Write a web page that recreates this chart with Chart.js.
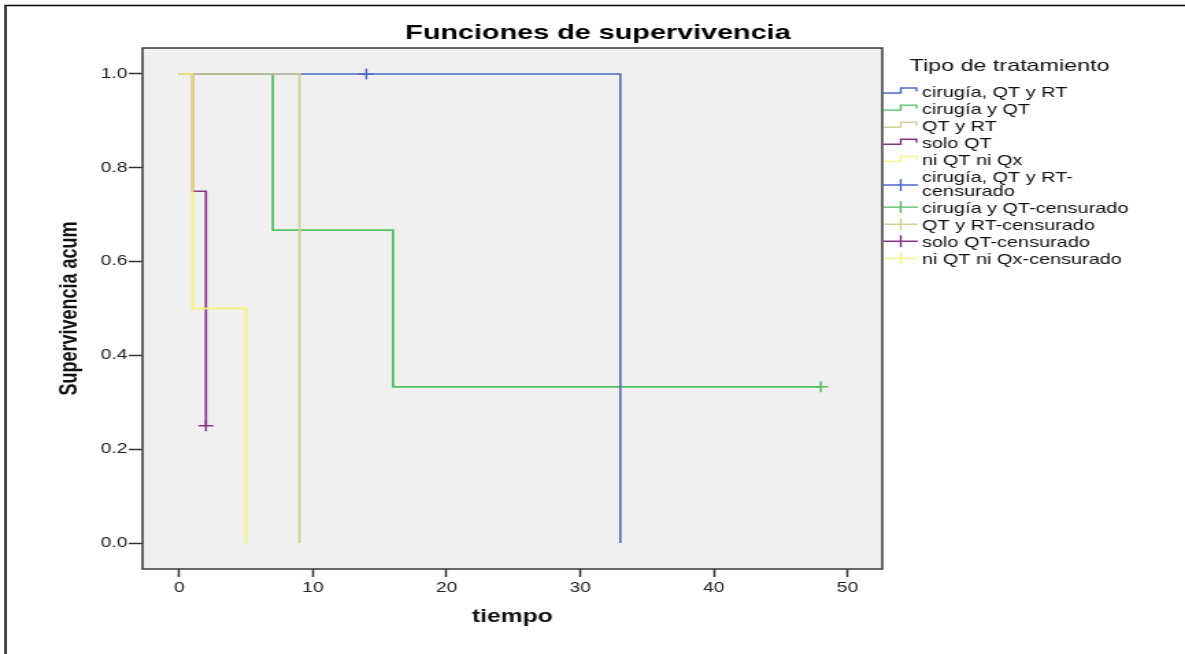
<!DOCTYPE html>
<html>
<head>
<meta charset="utf-8">
<script src="https://cdn.jsdelivr.net/npm/chart.js@4.4.1/dist/chart.umd.min.js"></script>
<style>
  html, body { margin: 0; padding: 0; background: #fff; overflow: hidden; }
  #wrap { position: relative; width: 1185px; height: 654px; }
  /* the SPSS export is stretched sideways, so draw narrow and stretch the canvas */
  #c { position: absolute; left: 0; top: 0; width: 865px; height: 654px;
       transform: scaleX(1.36994); transform-origin: 0 0; }
</style>
</head>
<body>
<div id="wrap"><canvas id="c" width="865" height="654"></canvas></div>
<script>
const titleText = 'Funciones de supervivencia';
const legendTitle = 'Tipo de tratamiento';
const groups = ['cirugía, QT y RT', 'cirugía y QT', 'QT y RT', 'solo QT', 'ni QT ni Qx'];
const colors = ['#4c68c6', '#52c063', '#d6cf96', '#83358a', 'rgba(248,243,112,0.85)'];

// Kaplan-Meier steps: time of event and survival after it
const tCirQtRt = [0, 33];        const sCirQtRt = [1, 0];
const tCirQt   = [0, 7, 16, 48]; const sCirQt   = [1, 0.667, 0.333, 0.333];
const tQtRt    = [0, 9];         const sQtRt    = [1, 0];
const tSoloQt  = [0, 1, 2];      const sSoloQt  = [1, 0.75, 0.25];
const tNiQt    = [0, 1, 5];      const sNiQt    = [1, 0.5, 0];

// censored cases
const cenT = [[14], [48], [], [2], []];
const cenS = [[1], [0.333], [], [0.25], []];

const xTicks = [0, 10, 20, 30, 40, 50];
const yTicks = [0, 0.2, 0.4, 0.6, 0.8, 1.0];

const FONT = '"Liberation Sans", Arial, sans-serif';
const curves = [[tCirQtRt, sCirQtRt], [tCirQt, sCirQt], [tQtRt, sQtRt], [tSoloQt, sSoloQt], [tNiQt, sNiQt]];
// lower order = drawn on top
const drawOrder = [4, 5, 3, 2, 1];
const widths = [1.6, 1.8, 1.7, 1.7, 2];

const pts = (t, s) => t.map((v, i) => ({ x: v, y: s[i] }));

const datasets = [];
curves.forEach(([t, s], i) => {
  datasets.push({
    label: groups[i],
    data: pts(t, s),
    showLine: true,
    stepped: 'before',
    borderColor: colors[i],
    borderWidth: widths[i],
    pointRadius: 0,
    fill: false,
    order: drawOrder[i]
  });
});
groups.forEach((g, i) => {
  datasets.push({
    label: g + '-censurado',
    data: pts(cenT[i], cenS[i]),
    showLine: false,
    pointStyle: 'cross',
    pointRadius: 5.5,
    borderColor: colors[i],
    borderWidth: 1.5,
    order: 0
  });
});

const chromePlugin = {
  id: 'chrome',
  beforeDraw(chart) {
    const { ctx, chartArea: a, width, height } = chart;
    ctx.save();
    ctx.fillStyle = '#fff';
    ctx.fillRect(0, 0, width, height);
    ctx.fillStyle = '#f0f0f0';
    ctx.fillRect(a.left, a.top, a.right - a.left, a.bottom - a.top);
    ctx.strokeStyle = '#000';
    ctx.lineWidth = 1.6;
    ctx.beginPath();
    ctx.moveTo(4, height);
    ctx.lineTo(4, 5.5);
    ctx.lineTo(width, 5.5);
    ctx.stroke();
    ctx.fillStyle = '#000';
    ctx.font = 'bold 21px ' + FONT;
    ctx.textAlign = 'center';
    ctx.textBaseline = 'alphabetic';
    ctx.fillText(titleText, 436.5, 39);
    ctx.restore();
  },
  afterDraw(chart) {
    const { ctx, chartArea: a } = chart;
    ctx.save();
    ctx.strokeStyle = '#444';
    ctx.lineWidth = 1.6;
    ctx.strokeRect(a.left, a.top, a.right - a.left, a.bottom - a.top);

    // legend
    ctx.fillStyle = '#111';
    ctx.textAlign = 'left';
    ctx.textBaseline = 'alphabetic';
    ctx.font = '17px ' + FONT;
    ctx.fillText(legendTitle, 664, 71);

    const x0 = 645, x1 = 669, xm = 657.5, tx = 673;
    ctx.font = '14.5px ' + FONT;
    const items = [];
    groups.forEach((g, i) => items.push({ text: g, color: colors[i], kind: 'step' }));
    groups.forEach((g, i) => items.push({ text: g + '-censurado', color: colors[i], kind: 'cross' }));

    let y = 96.5;
    items.forEach(it => {
      let lines = [it.text];
      if (ctx.measureText(it.text).width > 165) {
        const k = it.text.lastIndexOf('-') + 1;
        lines = [it.text.slice(0, k), it.text.slice(k)];
      }
      ctx.strokeStyle = it.color;
      ctx.lineWidth = 1.4;
      ctx.beginPath();
      if (it.kind === 'step') {
        ctx.moveTo(x0, y - 3.5);
        ctx.lineTo(xm, y - 3.5);
        ctx.lineTo(xm, y - 8.5);
        ctx.lineTo(x1, y - 8.5);
        ctx.lineTo(x1, y - 5);
      } else {
        const cy = lines.length > 1 ? y + 3 : y - 6;
        ctx.moveTo(x0, cy);
        ctx.lineTo(x1 + 1, cy);
        ctx.moveTo(xm, cy - 6);
        ctx.lineTo(xm, cy + 6);
      }
      ctx.stroke();
      ctx.fillStyle = '#111';
      lines.forEach((l, j) => ctx.fillText(l, tx, y + j * 14));
      y += (lines.length - 1) * 14 + 17.1;
    });
    ctx.restore();
  }
};

new Chart(document.getElementById('c'), {
  type: 'scatter',
  data: { datasets },
  options: {
    responsive: false,
    animation: false,
    devicePixelRatio: 1,
    layout: { padding: { left: 0, right: 221, top: 48, bottom: 0 } },
    plugins: { legend: { display: false }, tooltip: { enabled: false }, title: { display: false } },
    scales: {
      x: {
        type: 'linear',
        min: -2.75,
        max: 52.6,
        afterBuildTicks: s => { s.ticks = xTicks.map(v => ({ value: v })); },
        afterFit: s => { s.height = 85; },
        grid: { drawOnChartArea: false, drawTicks: true, tickLength: 8, tickWidth: 1.5, tickColor: '#333' },
        border: { display: false },
        ticks: { padding: 3, color: '#222', font: { family: FONT, size: 14 }, maxRotation: 0, autoSkip: false },
        title: { display: true, text: 'tiempo', color: '#111',
                 font: { family: FONT, size: 18, weight: 'bold' }, padding: { top: 0, bottom: 26 } }
      },
      y: {
        type: 'linear',
        min: -0.0554,
        max: 1.0554,
        afterBuildTicks: s => { s.ticks = yTicks.map(v => ({ value: v })); },
        afterFit: s => { s.width = 104; },
        grid: { drawOnChartArea: false, drawTicks: true, tickLength: 10, tickWidth: 1.5, tickColor: '#333' },
        border: { display: false },
        ticks: { padding: 1, color: '#222', font: { family: FONT, size: 14 },
                 callback: v => Number(v).toFixed(1) },
        title: { display: true, text: 'Supervivencia acum', color: '#111',
                 font: { family: FONT, size: 18, weight: 'bold' }, padding: { top: 40, bottom: 0 } }
      }
    }
  },
  plugins: [chromePlugin]
});
</script>
</body>
</html>
